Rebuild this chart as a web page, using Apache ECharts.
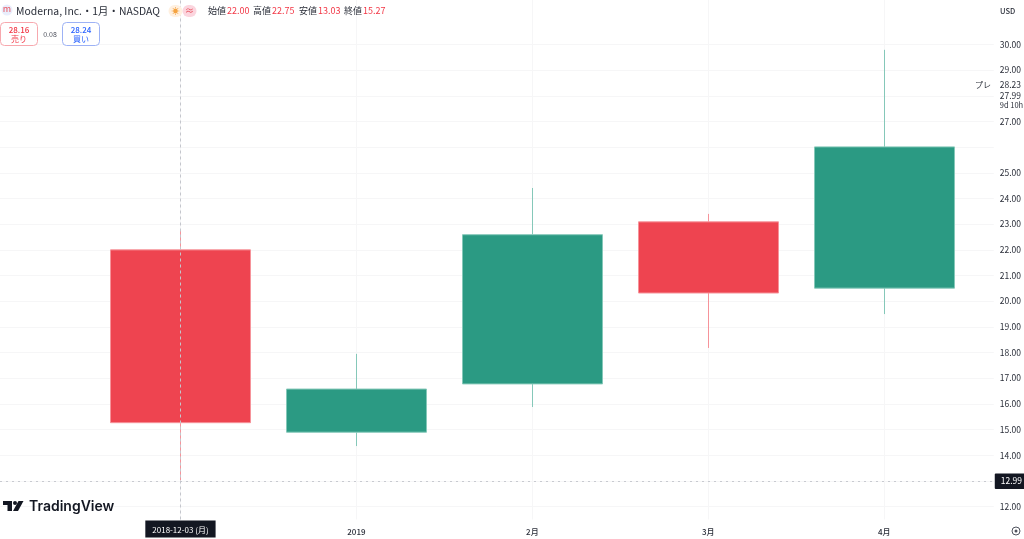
<!DOCTYPE html>
<html><head><meta charset="utf-8">
<style>html,body{margin:0;padding:0;background:#fff}#c{width:1024px;height:539px}</style>
<script src="https://cdn.jsdelivr.net/npm/echarts@6/dist/echarts.min.js"></script>
</head><body><div id="c"></div>
<script>
const months = ['2018-12-03 (月)', '2019', '2月', '3月', '4月'];
const opens  = [22.00, 14.90, 16.78, 23.09, 20.51];
const closes = [15.27, 16.58, 22.59, 20.32, 26.01];
const lows   = [13.03, 14.36, 15.88, 18.18, 19.50];
const highs  = [22.75, 17.95, 24.41, 23.40, 29.79];
const priceTicks = [12,13,14,15,16,17,18,19,20,21,22,23,24,25,26,27,28,29,30];
const priceLabels = [12,14,15,16,17,18,19,20,21,22,23,24,25,27,29,30];
const lastLow = 12.99, bid = 28.23, last = 27.99;

const font = '"Noto Sans CJK JP","Noto Sans",sans-serif';
const dark = '#131722', red = '#f23645', txt = '#2a2e39';
const W = 176, centerX = 180.5, right = 30;
const chart = echarts.init(document.getElementById('c'), null, {renderer:'canvas'});
const hidden = {color:'transparent',width:0};
const t = (x,y,text,size,fill,extra) => ({type:'text',x,y,z:20,style:Object.assign({text,fontSize:size,fill,fontFamily:font,verticalAlign:'middle'},extra||{})});
const r = (x,y,w,h,rad,fill,stroke) => ({type:'rect',z:19,shape:{x,y,width:w,height:h,r:rad},style:{fill,stroke:stroke||null,lineWidth:1}});

chart.setOption({
  animation:false,
  backgroundColor:'#fff',
  textStyle:{fontFamily:font},
  grid:{left:0,right:right,top:0,bottom:19.5},
  xAxis:{type:'value',min:-centerX/W,max:(1024-right-centerX)/W,
    axisLine:{show:false},axisTick:{show:false,customValues:[0,1,2,3,4]},
    splitLine:{show:true,lineStyle:{color:'#f6f6f7',width:1}},
    axisLabel:{customValues:[1,2,3,4],formatter:v=>months[v]||'',fontSize:8,color:txt,margin:8,fontWeight:500,fontFamily:font,
      hideOverlap:false,showMinLabel:true,showMaxLabel:true}},
  yAxis:{type:'value',position:'right',min:11.5,max:31.73,
    axisLine:{show:false},axisTick:{show:false,customValues:priceTicks},
    splitLine:{show:true,lineStyle:{color:'#f6f6f7',width:1}},
    axisLabel:{customValues:priceLabels,formatter:v=>v.toFixed(2),fontSize:8.5,color:txt,margin:6,align:'left',fontFamily:font,hideOverlap:false}},
  series:[{
    type:'candlestick',
    barWidth:140,
    clip:false,
    itemStyle:{color:'#2b9a83',color0:'#ee4450',borderColor:'#85c8b9',borderColor0:'#f6939a',borderWidth:1},
    encode:{x:0,y:[1,2,3,4]},
    data:months.map((m,i)=>[i,opens[i],closes[i],lows[i],highs[i]]),
    markLine:{silent:true,symbol:'none',animation:false,precision:2,
      data:[
        {yAxis:lastLow,lineStyle:{color:'#c8cad0',type:[2,4],width:1},
          label:{show:true,position:'end',distance:1,formatter:lastLow.toFixed(2),color:'#fff',backgroundColor:dark,fontSize:8.5,padding:[4,4,3,6],fontFamily:font,borderRadius:1}},
        {yAxis:bid,lineStyle:hidden,
          label:{show:true,position:'end',distance:6,offset:[0,-5],formatter:bid.toFixed(2),color:txt,fontSize:8.5,fontFamily:font}},
        {yAxis:last,lineStyle:hidden,
          label:{show:true,position:'end',distance:6,offset:[0,4],formatter:last.toFixed(2)+'\n{s|9d 10h}',color:txt,fontSize:8.5,lineHeight:10,fontFamily:font,
            rich:{s:{fontSize:7.5,color:txt,lineHeight:9,fontFamily:font}}}},
        {xAxis:0,lineStyle:{color:'#c4c6cc',type:[3,3],width:1},
          label:{show:true,position:'start',distance:1,offset:[0,0],formatter:months[0],color:'#fff',backgroundColor:dark,fontSize:8,padding:[5,7,4,7],fontFamily:font}}
      ]}
  }],
  graphic:[
    {type:'circle',z:19,shape:{cx:7,cy:10,r:5.5},style:{fill:'#e9eefc'}},
    t(7,9,'m',9,'#e8505c',{align:'center'}),
    t(16,11,'Moderna, Inc.・1月・NASDAQ',10.4,txt),
    r(168.5,5,14,12,6,'#fff0e0'),
    r(182.5,5,14,12,6,'#fbd5de'),
    t(175.5,11,'☀',8,'#f5a340',{align:'center'}),
    t(189.5,11,'≈',9,'#e8505c',{align:'center'}),
    t(208,11,'始値',9,txt), t(227,11,'22.00',9,red),
    t(253,11,'高値',9,txt), t(272,11,'22.75',9,red),
    t(299,11,'安値',9,txt), t(318,11,'13.03',9,red),
    t(344,11,'終値',9,txt), t(363,11,'15.27',9,red),
    r(0.5,22.5,37,23,4,'#fff','#f7a8ae'),
    t(19,30,'28.16',8,red,{align:'center',fontWeight:500}),
    t(19,39,'売り',8,red,{align:'center'}),
    t(50,34,'0.08',7,'#50535e',{align:'center'}),
    r(62.5,22.5,37,23,4,'#fff','#9db2f5'),
    t(81,30,'28.24',8,'#2962ff',{align:'center',fontWeight:500}),
    t(81,39,'買い',8,'#2962ff',{align:'center'}),
    t(983,85,'プレ',8,txt,{align:'center'}),
    t(1000,11,'USD',7.5,txt,{fontWeight:500}),
    {type:'circle',z:19,shape:{cx:1016,cy:531,r:4},style:{fill:'#fff',stroke:'#50535e',lineWidth:1}},
    {type:'circle',z:19,shape:{cx:1016,cy:531,r:1.5},style:{fill:'#50535e'}},
    {type:'polygon',z:20,shape:{points:[[3,501],[12,501],[12,511],[7.5,511],[7.5,505],[3,505]]},style:{fill:dark}},
    {type:'circle',z:20,shape:{cx:15,cy:503,r:2},style:{fill:dark}},
    {type:'polygon',z:20,shape:{points:[[18.5,501],[23.5,501],[18,511],[13,511]]},style:{fill:dark}},
    t(29,507,'TradingView',14,dark,{fontWeight:600,fontFamily:'Inter,"Noto Sans",sans-serif'})
  ]
});
</script></body></html>
